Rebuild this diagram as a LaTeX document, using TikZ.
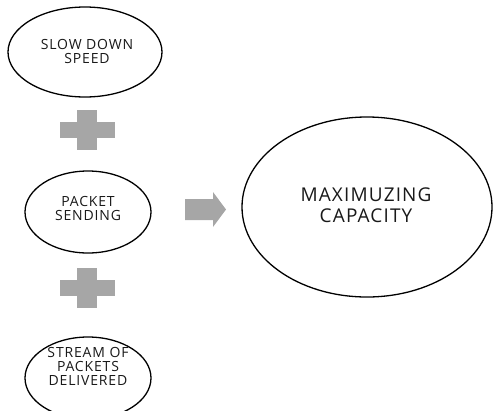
\documentclass[tikz,border=0pt]{standalone}
\usepackage{fontspec}
\setmainfont{Open Sans}
\usetikzlibrary{shapes.geometric}
\definecolor{shapegray}{HTML}{A6A6A6}
\tikzset{
  smalltxt/.style={font=\fontsize{14}{14}\selectfont\addfontfeature{LetterSpace=6}, align=center, text=black!90},
  bigtxt/.style={font=\fontsize{19}{20.5}\selectfont\addfontfeature{LetterSpace=6}, align=center, text=black!90},
  rim/.style={line width=1.3pt}
}
\begin{document}
\begin{tikzpicture}[x=1pt,y=-1pt]
\useasboundingbox (0,0) rectangle (495,410);
\clip (0,0) rectangle (495,410);
% ellipses
\draw[rim] (85,52) ellipse [x radius=77, y radius=45];
\node[smalltxt] (slow) at (87,51) {SLOW DOWN\\SPEED};
\draw[rim] (88,212) ellipse [x radius=63, y radius=41];
\node[smalltxt] (packet) at (88,208) {PACKET\\SENDING};
\draw[rim] (88,378) ellipse [x radius=63, y radius=41];
\node[smalltxt] (stream) at (88,366) {STREAM OF\\PACKETS\\DELIVERED};
\draw[rim] (367,207) ellipse [x radius=125, y radius=90];
\node[bigtxt] (max) at (366,205) {MAXIMUZING\\CAPACITY};
% plus signs
\foreach \cy in {130,288} {
  \fill[shapegray] (60,\cy-8) rectangle (115,\cy+8);
  \fill[shapegray] (77,\cy-20) rectangle (97,\cy+20);
}
% arrow
\fill[shapegray] (185,199) -- (213,199) -- (213,192) -- (226,209.5) -- (213,227) -- (213,220) -- (185,220) -- cycle;
\end{tikzpicture}
\end{document}
